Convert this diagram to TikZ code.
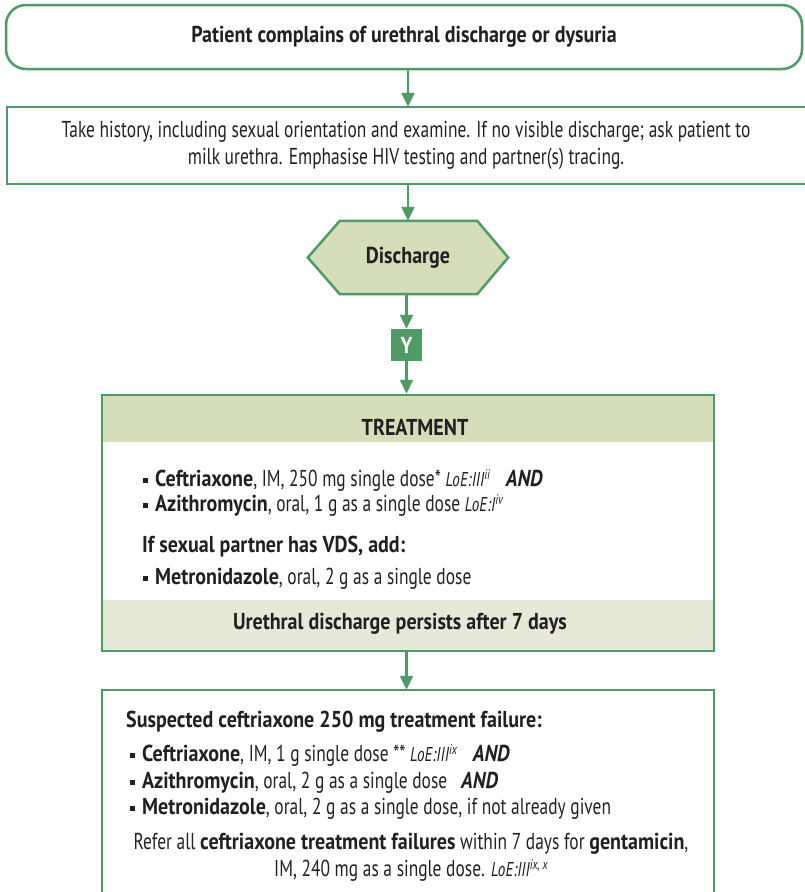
\documentclass[tikz,border=0pt]{standalone}
\usepackage{fontspec}
\setmainfont[FakeStretch=0.757,
  BoldFeatures={FakeStretch=0.87},
  BoldItalicFeatures={FakeStretch=0.87}]{PT Sans}
\usetikzlibrary{arrows.meta,backgrounds,calc}
\definecolor{gr}{HTML}{4F9A66}
\definecolor{hexfill}{HTML}{D6DDBB}
\definecolor{hdr}{HTML}{D6DDBB}
\definecolor{band}{HTML}{E6E9D7}
\definecolor{txt}{HTML}{231F20}
\newcommand\bul{\raisebox{4pt}{\rule{5pt}{5pt}}\hspace{7pt}}
\newcommand\loe[2]{{\fontsize{20}{20}\selectfont\itshape #1\raisebox{7pt}{\fontsize{14}{14}\selectfont #2}}}
\begin{document}
\begin{tikzpicture}[x=1pt,y=-1pt,
  box/.style={draw=gr,line width=2.5pt},
  arr/.style={draw=gr,line width=2.2pt,-{Triangle[width=13pt,length=14pt]}},
  txtnode/.style={text=txt,inner sep=0pt,font=\fontsize{23}{27}\selectfont},
  lnode/.style={txtnode,anchor=mid west},
]
\useasboundingbox (0,0) rectangle (804,892);

% top rounded box
\node[box,rounded corners=20pt,minimum width=796pt,minimum height=64pt,txtnode,text=txt] (start) at (404,37)
  {\bfseries Patient complains of urethral discharge or dysuria};

% history box (open to the right)
\node[txtnode,minimum width=798pt,minimum height=77pt,align=center] (hist) at (406,145.5)
  {Take history, including sexual orientation and examine. If no visible discharge; ask patient to\\
   milk urethra. Emphasise HIV testing and partner(s) tracing.};
\draw[box] (hist.north east) -- (hist.north west) -- (hist.south west) -- (hist.south east);

% hexagon
\node[txtnode,minimum width=200pt,minimum height=73pt] (disc) at (408,257.5) {\bfseries Discharge};
\begin{scope}[on background layer]
\draw[box,fill=hexfill] (disc.west) -- ($(disc.north west)+(32,0)$) -- ($(disc.north east)+(-31,0)$)
  -- (disc.east) -- ($(disc.south east)+(-31,0)$) -- ($(disc.south west)+(32,0)$) -- cycle;
\end{scope}

% Y box
\node[fill=gr,minimum width=31pt,minimum height=32pt,inner sep=0pt,text=white,font=\fontsize{23}{23}\selectfont\bfseries] (yes) at (406.5,345) {Y};

% treatment box
\fill[hdr] (102,395) rectangle (714,442);
\fill[band] (102,600) rectangle (714,651);
\node[box,minimum width=612pt,minimum height=256pt,inner sep=0pt] (treat) at (408,523) {};
\node[txtnode] (th) at (415,427) {\bfseries TREATMENT};
\node[lnode] (t1) at (143,484) {\bul\textbf{Ceftriaxone}, IM, 250 mg single dose* \loe{LoE:III}{ii}\hspace{16pt}\textbf{\itshape AND}};
\node[lnode] (t2) at (143,509) {\bul\textbf{Azithromycin}, oral, 1 g as a single dose \loe{LoE:I}{iv}};
\node[lnode] (t3) at (142,550) {\bfseries If sexual partner has VDS, add:};
\node[lnode] (t4) at (143,582) {\bul\textbf{Metronidazole}, oral, 2 g as a single dose};
\node[txtnode] (tb) at (400,624) {\bfseries Urethral discharge persists after 7 days};

% failure box (open at the bottom)
\node[minimum width=612pt,minimum height=202pt,inner sep=0pt] (fail) at (408,791) {};
\draw[box] (fail.south west) -- (fail.north west) -- (fail.north east) -- (fail.south east);
\node[lnode] (f0) at (126,725) {\bfseries Suspected ceftriaxone 250 mg treatment failure:};
\node[lnode] (f1) at (130,759) {\bul\textbf{Ceftriaxone}, IM, 1 g single dose ** \loe{LoE:III}{ix}\hspace{16pt}\textbf{\itshape AND}};
\node[lnode] (f2) at (130,786) {\bul\textbf{Azithromycin}, oral, 2 g as a single dose\hspace{14pt}\textbf{\itshape AND}};
\node[lnode] (f3) at (130,812) {\bul\textbf{Metronidazole}, oral, 2 g as a single dose, if not already given};
\node[txtnode,align=center] (f4) at (411,857) {Refer all \textbf{ceftriaxone treatment failures} within 7 days for \textbf{gentamicin},\\
  IM, 240 mg as a single dose. \loe{LoE:III}{ix, x}};

% connectors
\draw[arr] (start.south -| disc) -- (hist.north -| disc);
\draw[arr] (hist.south -| disc) -- (disc.north);
\draw[arr] (disc.south -| yes) -- (yes.north);
\draw[arr] (yes.south) -- (treat.north -| yes);
\draw[arr] (treat.south -| yes) -- (fail.north -| yes);
\end{tikzpicture}
\end{document}
